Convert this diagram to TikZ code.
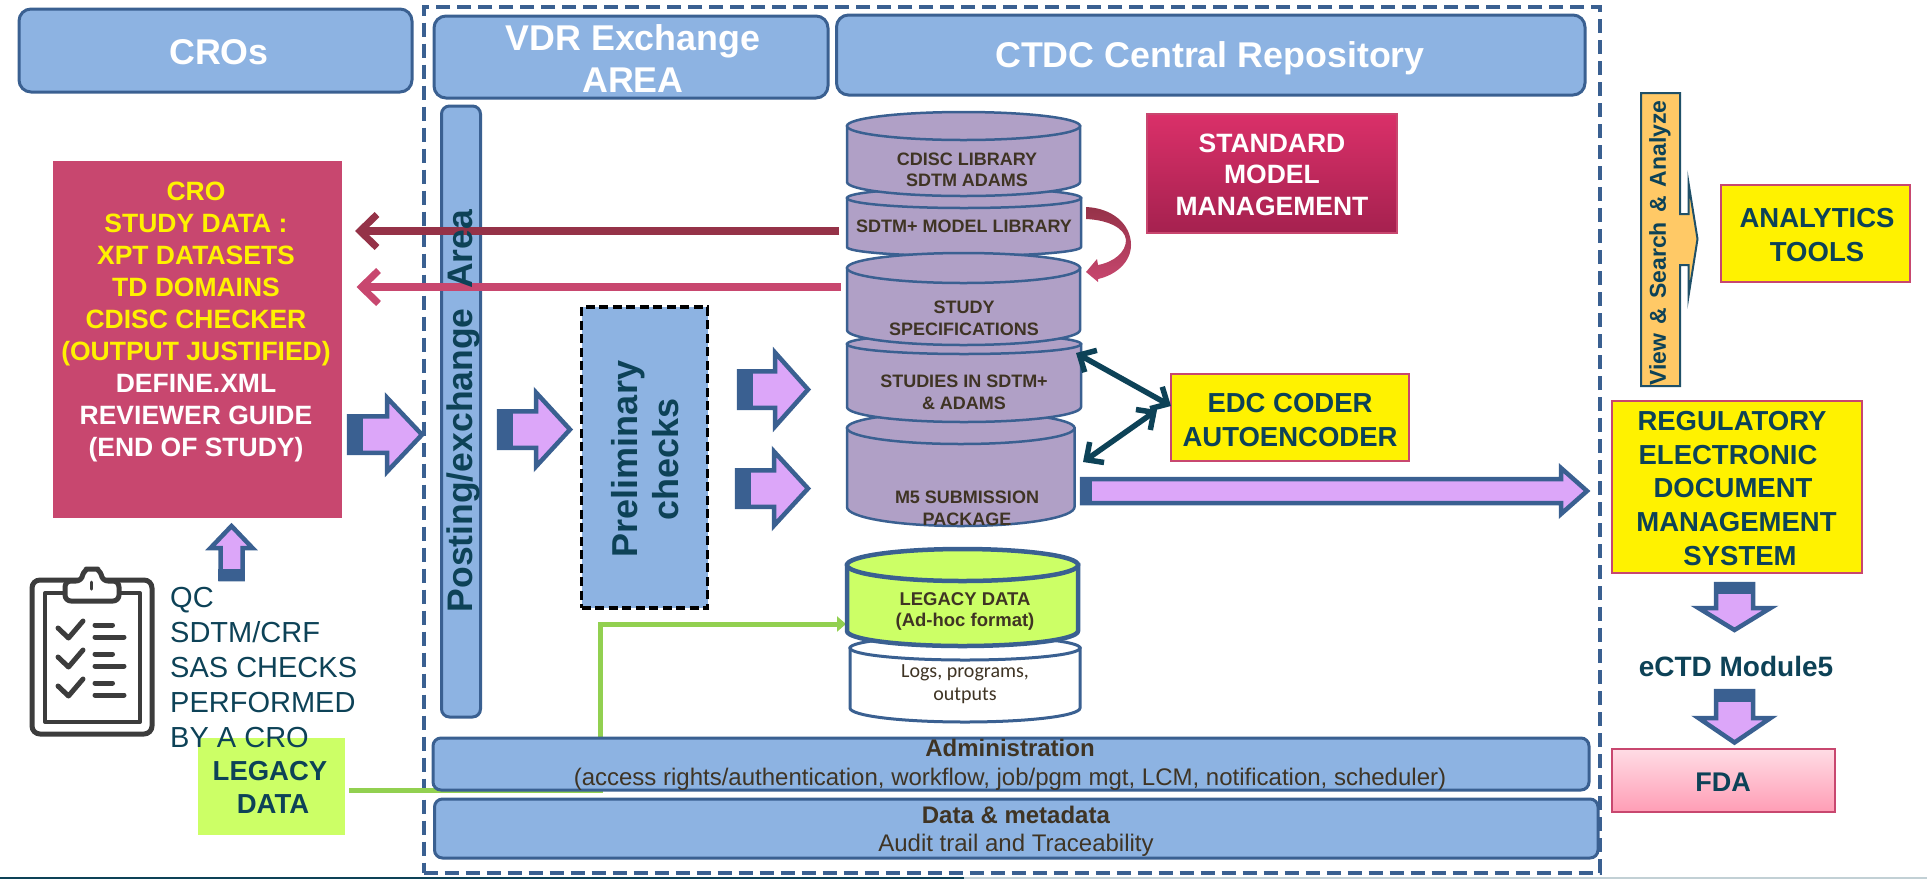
\documentclass[tikz,border=0pt]{standalone}
\usepackage{fontspec}
\setmainfont{Liberation Sans}
\newfontfamily\calib{Carlito}
\usetikzlibrary{arrows.meta}
\definecolor{bluefill}{HTML}{8DB3E2}
\definecolor{blueline}{HTML}{3A6091}
\definecolor{teal}{HTML}{0D4257}
\definecolor{brownt}{HTML}{3F3424}
\definecolor{rose}{HTML}{C8476F}
\definecolor{wine}{HTML}{953248}
\definecolor{lilac}{HTML}{DCA6F9}
\definecolor{mauve}{HTML}{B0A0C6}
\definecolor{lime}{HTML}{CCFF66}
\definecolor{grn}{HTML}{92D050}
\definecolor{iconc}{HTML}{3C3C3C}
\newcommand{\fsz}[2]{\fontsize{#1}{#2}\selectfont}
\tikzset{
  x=1pt,y=-1pt,
  hdr/.style={draw=blueline,fill=bluefill,line width=3pt,rounded corners=12pt},
  barbox/.style={draw=blueline,fill=bluefill,line width=3pt,rounded corners=8pt},
  yel/.style={draw=rose,fill=yellow,line width=2pt},
  white label/.style={text=white,font=\bfseries\fsz{35.8}{42},align=center},
  cyl/.style={draw=blueline,line width=2.5pt,fill=mauve},
  cyltext/.style={text=brownt,font=\bfseries\fsz{18}{21.5},align=center,inner sep=0pt},
  barrow/.style={draw=blueline,line width=4.5pt,fill=lilac,miter limit=10},
  thinback/.style={line width=7.5pt,-{Straight Barb[length=17pt,width=33pt,line width=7pt]}},
  dbl/.style={draw=teal,line width=5.5pt,{Straight Barb[length=13pt,width=25pt,line width=5.5pt]}-{Straight Barb[length=13pt,width=25pt,line width=5.5pt]},line cap=round},
  clip line/.style={draw=iconc,line width=5pt,line cap=round,line join=round},
}
\newcommand{\boxn}[6]{\node[#1,minimum width={(#4-#2)*1pt},minimum height={(#5-#3)*1pt},inner sep=0pt,outer sep=0pt] (#6) at ({(#2+#4)/2},{(#3+#5)/2}) {};}
\newcommand{\cylshape}[7][]{%
  \path[cyl,#1] (#2,#4) -- (#2,#6) .. controls (#2,{#6+.55*#7}) and ({#2+.22*(#3-#2)},{#6+#7}) .. ({(#2+#3)/2},{#6+#7})
     .. controls ({#3-.22*(#3-#2)},{#6+#7}) and (#3,{#6+.55*#7}) .. (#3,#6) -- (#3,#4) -- cycle;
  \path[cyl,#1] ({(#2+#3)/2},#4) ellipse [x radius={(#3-#2)/2},y radius=#5];}
\newcommand{\blockarrow}[8]{%
  \begin{scope}[shift={(#1,#2)},rotate=#3]
    \path[barrow] (0,-#7) -- (#5,-#7) -- (#5,-#8) -- (#6,0) -- (#5,#8) -- (#5,#7) -- (0,#7) -- cycle;
    \fill[blueline] (-2,{-#7-2.25}) rectangle (#4,{#7+2.25});
  \end{scope}}
\begin{document}
\begin{tikzpicture}
\useasboundingbox (0,0) rectangle (1927,879);
% bottom rule
\coordinate (ruleL) at (0,878); \coordinate (ruleM) at (964,878); \coordinate (ruleR) at (1927,878);
\draw[draw=teal,line width=1.5pt] (ruleL) -- (ruleM);
\draw[draw=teal!25,line width=1.5pt] (ruleM) -- (ruleR);
% outer dashed frame
\boxn{draw=blueline,line width=4pt,dash pattern=on 14pt off 7pt}{423.5}{7}{1600}{872.5}{frame}
% headers
\boxn{hdr}{19}{9}{412}{92}{crosh}
\node[white label] at (219,52) {CROs};
\boxn{hdr}{434}{16}{828}{98}{vdrh}
\node[white label] at (633,59) {VDR Exchange\\AREA};
\boxn{hdr}{836.5}{15}{1585}{95}{ctdch}
\node[white label] at (1210,58) {CTDC Central Repository};
% posting bar
\boxn{barbox}{441.5}{106}{480.5}{717}{post}
% CRO box
\boxn{fill=rose}{52.6}{161}{342}{518}{crobox}
\node[font=\bfseries\fsz{26.5}{32},align=center,text=yellow,inner sep=0pt] (crotext) at (196,322) {CRO\\STUDY DATA :\\XPT DATASETS\\TD DOMAINS\\CDISC CHECKER\\(OUTPUT JUSTIFIED)\\\textcolor{white}{DEFINE.XML}\\\textcolor{white}{REVIEWER GUIDE}\\\textcolor{white}{(END OF STUDY)}};
% cylinders
\cylshape{847}{1074.5}{428}{16}{507}{19}
\cylshape{847}{1081}{344}{10}{407}{15}
\cylshape{847}{1081}{198}{10}{247}{9}
\cylshape{847}{1080}{268}{15}{330}{15}
\cylshape{847}{1080}{126}{14}{182}{14}
\node[cyltext] (c1) at (967,170) {CDISC LIBRARY\\SDTM ADAMS};
\node[cyltext] (c2) at (964,226) {SDTM+ MODEL LIBRARY};
\node[cyltext] (c3) at (964,318.5) {STUDY\\SPECIFICATIONS};
\node[cyltext] (c4) at (964,392.5) {STUDIES IN SDTM+\\\& ADAMS};
\node[cyltext] (c5) at (967,508.5) {M5 SUBMISSION\\PACKAGE};
% back arrows
\coordinate (a1s) at (839,231); \coordinate (a1e) at (355,231);
\coordinate (a2s) at (841,287); \coordinate (a2e) at (356.5,287);
\draw[thinback,draw=wine] (a1s) -- (a1e);
\draw[thinback,draw=rose] (a2s) -- (a2e);
% posting text
\node[rotate=90,text=teal,font=\bfseries\fsz{35.5}{40},inner sep=0pt] (posttext) at (463,411) {Posting/exchange\hspace{.556em}Area};
% prelim
\boxn{draw=black,fill=bluefill,line width=3.5pt,dash pattern=on 9pt off 4.5pt}{581.5}{307}{707.6}{608}{prelim}
\node[rotate=90,text=teal,font=\bfseries\fsz{36}{41},align=center,inner sep=0pt] (prelimt) at (645,459) {Preliminary\\checks};
% block arrows
\blockarrow{349}{434.7}{0}{14}{38}{73}{18.25}{37}
\blockarrow{499}{429.5}{0}{14}{37}{71}{18.25}{37}
\blockarrow{739}{389.5}{0}{14}{36}{69}{18.25}{37}
\blockarrow{737}{488.5}{0}{14}{37}{71}{18.25}{37}
\blockarrow{1082}{491}{0}{10}{479}{505}{12}{23}
\blockarrow{231.5}{579}{90}{10}{31}{53}{11}{21}
\blockarrow{1734.5}{584}{-90}{10}{24}{46}{18.5}{36}
\blockarrow{1734.5}{691}{-90}{11}{27}{51.5}{18.5}{36}
% curved ribbon
\path[top color=wine,bottom color=rose,draw=none] (1086,207) .. controls (1112,208) and (1131,224) .. (1131,245)
  .. controls (1131,262) and (1116,275) .. (1098,279) -- (1098,282) -- (1086,272) -- (1097,259) -- (1098,265)
  .. controls (1114,262) and (1126,252) .. (1126,240) .. controls (1125,228) and (1108,220) .. (1086,219) -- cycle;
% standard model
\boxn{draw=rose,line width=1.5pt,top color={rgb,255:red,218;green,48;blue,105},bottom color={rgb,255:red,165;green,33;blue,79}}{1147}{114}{1397}{233}{stdbox}
\node[text=white,font=\bfseries\fsz{26.5}{31.5},align=center,inner sep=0pt] (stdt) at (1272,174.5) {STANDARD\\MODEL\\MANAGEMENT};
% EDC
\boxn{yel}{1171}{374}{1409}{461}{edc}
\node[text=teal,font=\bfseries\fsz{27.5}{34},align=center,inner sep=0pt] (edct) at (1290,420) {EDC CODER\\AUTOENCODER};
\coordinate (d1a) at (1076,353); \coordinate (d1b) at (1171,406);
\coordinate (d2a) at (1083,462); \coordinate (d2b) at (1157,410);
\draw[dbl] (d1a) -- (d1b);
\draw[dbl] (d2a) -- (d2b);
% view arrow
\path[draw={rgb,255:red,31;green,80;blue,104},line width=2pt,fill={rgb,255:red,255;green,201;blue,102},miter limit=20] (1641,93) -- (1680,93) -- (1680,214) -- (1688.5,214) -- (1688.5,183) -- (1697.5,239) -- (1688.5,296) -- (1688.5,265) -- (1680,265) -- (1680,386) -- (1641,386) -- cycle;
\node[rotate=90,text=teal,font=\bfseries\fsz{23}{26},inner sep=0pt] (viewt) at (1660,243) {View\hspace{.4em}\&\hspace{.4em}Search\hspace{.4em}\&\hspace{.4em}Analyze};
% analytics
\boxn{yel}{1721}{185}{1909.5}{281.5}{ana}
\node[text=teal,font=\bfseries\fsz{27.5}{34},align=center,inner sep=0pt] (anat) at (1817,235) {ANALYTICS\\TOOLS};
% regulatory
\boxn{yel}{1611.5}{400.5}{1861.5}{573}{reg}
\node[text=teal,font=\bfseries\fsz{27.5}{33.75},align=center,inner sep=0pt] (regt) at (1735,488.5) {\hspace*{-6pt}REGULATORY\\\hspace*{-14pt}ELECTRONIC\\\hspace*{-4pt}DOCUMENT\\\hspace*{3pt}MANAGEMENT\\\hspace*{10pt}SYSTEM};
% eCTD
\node[text=teal,font=\bfseries\fsz{28}{32},inner sep=0pt] (ectd) at (1736,666) {eCTD Module5};
% FDA
\boxn{draw=rose,line width=2.5pt,top color={rgb,255:red,255;green,220;blue,229},bottom color={rgb,255:red,255;green,157;blue,181}}{1612}{749}{1835}{812}{fda}
\node[text=teal,font=\bfseries\fsz{27}{32},inner sep=0pt] (fdat) at (1723,782) {FDA};
% legacy box and green connector
\boxn{fill=lime}{197.5}{738}{345}{835}{legbox}
\node[text=teal,font=\bfseries\fsz{27.5}{33},align=center,inner sep=0pt] (legt) at (270,787.5) {LEGACY\\\hspace*{6pt}DATA};
\coordinate (gs) at (349,790); \coordinate (gt) at (846,624);
\draw[draw=grn,line width=5pt,-{Triangle[length=9pt,width=15pt]}] (gs) -| (600.7,624) -- (gt);
% admin bars
\boxn{barbox}{433}{738}{1589}{790}{admin}
\node[text=brownt,font=\fsz{24}{29},align=center,inner sep=0pt] (admint) at (1010,765) {\textbf{Administration}\\(access rights/authentication, workflow, job/pgm mgt, LCM, notification, scheduler)};
\boxn{barbox}{434.5}{799}{1598}{858}{datab}
\node[text=brownt,font=\fsz{24}{28},align=center,inner sep=0pt] (datat) at (1016,831) {\textbf{Data \& metadata}\\Audit trail and Traceability};
% legacy cylinders
\cylshape[fill=white,line width=3pt]{850}{1080}{648}{12}{708}{14}
\cylshape[fill=lime,line width=4.5pt]{847}{1078}{565}{16}{631}{15}
\node[cyltext,font=\bfseries\fsz{18.5}{21}] (lc) at (965,611.5) {LEGACY DATA\\(Ad-hoc format)};
\node[cyltext,font=\calib\fsz{20}{23}] (wc) at (965,684.5) {Logs, programs,\\outputs};
% QC text
\node[text=teal,font=\fsz{29}{35},align=left,anchor=west,inner sep=0pt] (qc) at (170,668) {QC\\SDTM/CRF\\SAS CHECKS\\PERFORMED\\BY A CRO};
% clipboard icon
\draw[clip line,rounded corners=8pt] (32,580) rectangle (152,734);
\draw[clip line,line width=4pt] (45,593) rectangle (140,722);
\draw[clip line,fill=white,rounded corners=6pt] (65,601) -- (65,581) -- (82,581) .. controls (83,572) and (88,569) .. (92,569) .. controls (96,569) and (101,572) .. (102,581) -- (119,581) -- (119,601) -- cycle;
\draw[clip line,line width=3pt] (91.6,582) -- (91.6,589);
\foreach \dy in {0,29,58}{
  \draw[clip line] (58,{628+\dy}) -- (68.5,{638+\dy}) -- (83,{621+\dy});
  \draw[clip line] (95,{625+\dy}) -- (112.5,{625+\dy});
  \draw[clip line] (95,{637+\dy}) -- (124,{637+\dy});
}
\end{tikzpicture}
\end{document}
